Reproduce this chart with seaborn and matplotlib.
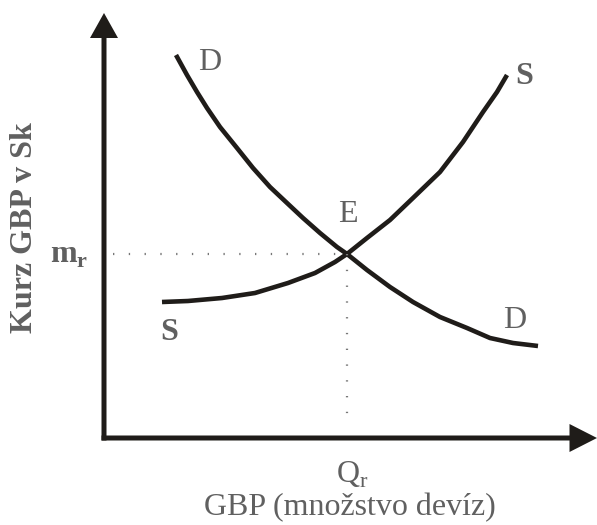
import matplotlib
matplotlib.use("Agg")
import matplotlib.pyplot as plt
import seaborn as sns
import pandas as pd

# demand and supply curves (quantity, exchange rate)
demand_q = [1.44, 1.66, 1.86, 2.06, 2.32, 2.66, 2.98, 3.32, 3.66, 3.98, 4.32, 4.66,
            4.86, 5.26, 5.72, 6.18, 6.72, 7.26, 7.72, 8.18, 8.68]
demand_p = [7.66, 7.26, 6.92, 6.60, 6.22, 5.80, 5.40, 5.02, 4.70, 4.40, 4.10, 3.82,
            3.68, 3.36, 3.02, 2.72, 2.42, 2.20, 2.00, 1.90, 1.84]
supply_q = [1.16, 1.68, 2.36, 3.02, 3.68, 4.22, 4.62, 4.86, 5.26, 5.72, 6.18, 6.72,
            7.18, 7.58, 7.86, 8.06]
supply_p = [2.72, 2.74, 2.80, 2.90, 3.10, 3.30, 3.52, 3.68, 4.00, 4.36, 4.80, 5.32,
            5.92, 6.52, 6.92, 7.26]

eq_q = 4.86
eq_p = 3.68

sns.set_theme(style="white")
plt.rcParams['font.family'] = ['Liberation Serif', 'DejaVu Serif']

line_col = '#1f1c19'
text_col = '#606060'

df = pd.concat([
    pd.DataFrame({'q': demand_q, 'p': demand_p, 'curve': 'D'}),
    pd.DataFrame({'q': supply_q, 'p': supply_p, 'curve': 'S'}),
])

fig = plt.figure(figsize=(5.97, 5.25), dpi=100)
ax = fig.add_axes([0, 0, 1, 1])
ax.set_xlim(-2.08, 9.86)
ax.set_ylim(-1.74, 8.76)
ax.set_aspect('equal')
ax.axis('off')

sns.lineplot(data=df, x='q', y='p', hue='curve', palette=[line_col, line_col],
             sort=False, linewidth=3.3, legend=False, ax=ax,
             solid_capstyle='butt', solid_joinstyle='round')

# dotted guide lines to the equilibrium
ax.plot([0.18, eq_q], [eq_p, eq_p], linestyle=(0, (0.6, 6.5)), color='#777777', lw=1.6)
ax.plot([eq_q, eq_q], [eq_p, 0.36], linestyle=(0, (0.6, 6.5)), color='#777777', lw=1.6)

# axes with arrow heads
ax.arrow(0, -0.05, 0, 8.55, width=0.1, head_width=0.56, head_length=0.5,
         length_includes_head=True, color=line_col, lw=0)
ax.arrow(-0.05, 0, 9.91, 0, width=0.1, head_width=0.56, head_length=0.55,
         length_includes_head=True, color=line_col, lw=0)

fs = 23
ax.text(2.12, 7.52, 'D', fontsize=fs, color=text_col, ha='center', va='center')
ax.text(8.22, 2.34, 'D', fontsize=fs, color=text_col, ha='center', va='center')
ax.text(8.40, 7.22, 'S', fontsize=fs, color=text_col, ha='center', va='center', fontweight='bold')
ax.text(1.30, 2.10, 'S', fontsize=fs, color=text_col, ha='center', va='center', fontweight='bold')
ax.text(4.88, 4.46, 'E', fontsize=fs, color=text_col, ha='center', va='center')
ax.text(-0.32, 3.64, r'm$_\mathregular{r}$', fontsize=fs, color=text_col,
        ha='right', va='center', fontweight='bold')
ax.text(4.96, -0.74, r'Q$_\mathregular{r}$', fontsize=fs, color=text_col,
        ha='center', va='center')
ax.text(4.92, -1.40, 'GBP (množstvo devíz)', fontsize=fs, color=text_col,
        ha='center', va='center')
ax.text(-1.58, 4.20, 'Kurz GBP v Sk', fontsize=fs, color=text_col, rotation=90,
        ha='center', va='center', fontweight='bold')

fig.savefig('out.png', dpi=100)
